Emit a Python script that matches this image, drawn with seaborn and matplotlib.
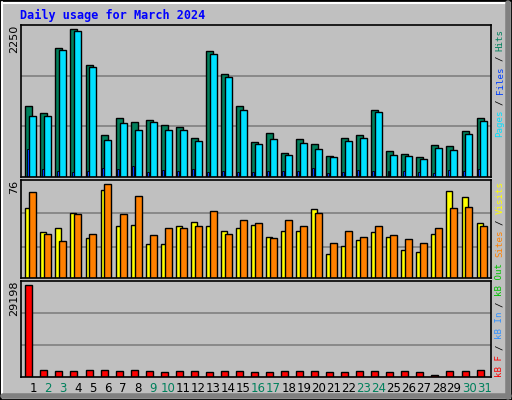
import numpy as np
import matplotlib
matplotlib.use("Agg")
import matplotlib.pyplot as plt
import seaborn as sns
from matplotlib.lines import Line2D
from matplotlib.patches import Rectangle

days = list(range(1, 32))
hits = [1048, 944, 1912, 2195, 1659, 616, 869, 810, 839, 765, 735, 571, 1868, 1525, 1048, 512,
        646, 348, 556, 482, 303, 571, 616, 988, 377, 333, 288, 467, 452, 676, 869]
files = [899, 899, 1882, 2166, 1629, 541, 795, 690, 810, 690, 690, 527, 1823, 1480, 988, 482,
         556, 318, 497, 407, 288, 527, 571, 959, 318, 303, 258, 422, 392, 631, 825]
pages = [407, 114, 84, 70, 84, 129, 114, 159, 70, 99, 84, 114, 70, 84, 70, 70,
         84, 84, 84, 129, 55, 70, 99, 84, 84, 84, 70, 55, 99, 84, 114]
visits = [54.5, 36.8, 39.9, 50.7, 32.2, 68.3, 40.7, 41.5, 27.6, 27.6, 40.7, 43.8, 40.7, 37.6, 39.2, 41.5,
          33.0, 37.6, 37.6, 53.7, 20.0, 26.1, 30.7, 36.8, 33.0, 23.0, 21.5, 35.3, 67.6, 63.0, 43.0]
sites = [66.8, 35.3, 29.9, 49.9, 35.3, 72.9, 49.9, 63.7, 34.5, 39.2, 39.9, 40.7, 52.2, 35.3, 45.3, 43.0,
         32.2, 45.3, 40.7, 50.7, 28.4, 37.6, 33.0, 40.7, 34.5, 31.5, 28.4, 39.2, 54.5, 55.3, 40.7]
kbytes = [27920, 2360, 2064, 2064, 2360, 2360, 2064, 2360, 2064, 1770, 2064, 2064, 1770, 2064, 2064, 1770,
          1770, 2064, 2064, 2064, 1770, 1770, 2064, 2064, 1770, 2064, 1770, 700, 2064, 2064, 2360]
weekend = [2, 3, 9, 10, 16, 17, 23, 24, 30, 31]
max_hits, max_visits, max_kb = 2250, 76, 29198

sns.set_theme(style="white")
plt.rcParams['font.family'] = ['DejaVu Sans']
BG = "#C0C0C0"
W, H = 512, 400
fig = plt.figure(figsize=(5.12, 4.0), dpi=100, facecolor=BG)

def fx(px): return px / W
def fy(py): return 1 - py / H

def add_ax(top, bottom):
    ax = fig.add_axes([fx(21), fy(bottom), fx(491) - fx(21), (bottom - top) / H])
    ax.set_facecolor(BG)
    for s in ax.spines.values():
        s.set_color("black"); s.set_linewidth(1.2); s.set_visible(True)
    ax.set_xlim(0.2, 31.45)
    ax.set_xticks([]); ax.set_yticks([])
    return ax

d = np.array(days, dtype=float)
kw = dict(edgecolor="black", linewidth=1, align="edge")

ax1 = add_ax(25, 176.7)
ax1.set_ylim(0, max_hits)
for g in (max_hits / 3, 2 * max_hits / 3):
    ax1.axhline(g, color="#808080", lw=1.2, zorder=0)
ax1.bar(d - 0.51, hits, width=0.465, color="#00805C", **kw)
ax1.bar(d - 0.25, files, width=0.465, color="#00E0FF", **kw)
ax1.bar(d - 0.43, pages, width=0.13, color="#0040FF", edgecolor="black", linewidth=0.6, align="edge")

ax2 = add_ax(180.3, 277.5)
ax2.set_ylim(1.7, max_visits)
for g in (max_visits / 3, 2 * max_visits / 3):
    ax2.axhline(g, color="#808080", lw=1.2, zorder=0)
ax2.bar(d - 0.51, visits, width=0.4, color="#FFFF00", **kw)
ax2.bar(d - 0.25, sites, width=0.465, color="#FF8000", **kw)

ax3 = add_ax(280.5, 376.5)
ax3.set_ylim(360, max_kb)
for g in (max_kb / 3, 2 * max_kb / 3):
    ax3.axhline(g, color="#808080", lw=1.2, zorder=0)
ax3.bar(d - 0.51, kbytes, width=0.465, color="#FF0000", **kw)

# day labels
for i in days:
    px = 33 + 15.04 * (i - 1)
    fig.text(fx(px), fy(389), str(i), ha="center", va="center", fontsize=8.5,
             color="#00805C" if i in weekend else "black")

mono = "DejaVu Sans Mono"
fig.text(fx(20), fy(15), "Daily usage for March 2024", ha="left", va="center",
         fontsize=8.5, fontweight="bold", color="#0000FF", family=mono)
for txt, ytop in (("2250", 25), ("76", 180), ("29198", 281)):
    fig.text(fx(14), fy(ytop), txt, rotation=90, ha="center", va="top", fontsize=8, color="black")

def vlabel(pieces, ybottom, cw=5.4):
    idx = 0
    for txt, col in pieces:
        fig.text(fx(500), fy(ybottom - idx * cw), txt, rotation=90, ha="center", va="bottom",
                 fontsize=6.6, color=col, family=mono)
        idx += len(txt) + 1

vlabel([("Pages", "#00E0FF"), ("/", "black"), ("Files", "#0040FF"), ("/", "black"), ("Hits", "#00805C")], 137)
vlabel([("Sites", "#FF8000"), ("/", "black"), ("Visits", "#FFFF00")], 257)
vlabel([("kB F", "#FF0000"), ("/", "black"), ("kB In", "#3090FF"), ("/", "black"), ("kB Out", "#00C000")], 377)

# bevel border
fig.add_artist(Rectangle((0, 0), 1, 1, transform=fig.transFigure, fill=False, edgecolor="black", lw=2))
fig.add_artist(Line2D([fx(2), fx(2)], [fy(2), fy(396)], color="white", lw=1.5, transform=fig.transFigure))
fig.add_artist(Line2D([fx(2), fx(508)], [fy(2.5), fy(2.5)], color="white", lw=1.5, transform=fig.transFigure))
fig.add_artist(Line2D([fx(508), fx(508)], [fy(3), fy(397)], color="#808080", lw=4, transform=fig.transFigure))
fig.add_artist(Line2D([fx(3), fx(509)], [fy(396), fy(396)], color="#808080", lw=4, transform=fig.transFigure))

fig.savefig("out.png", dpi=100, facecolor=BG)
